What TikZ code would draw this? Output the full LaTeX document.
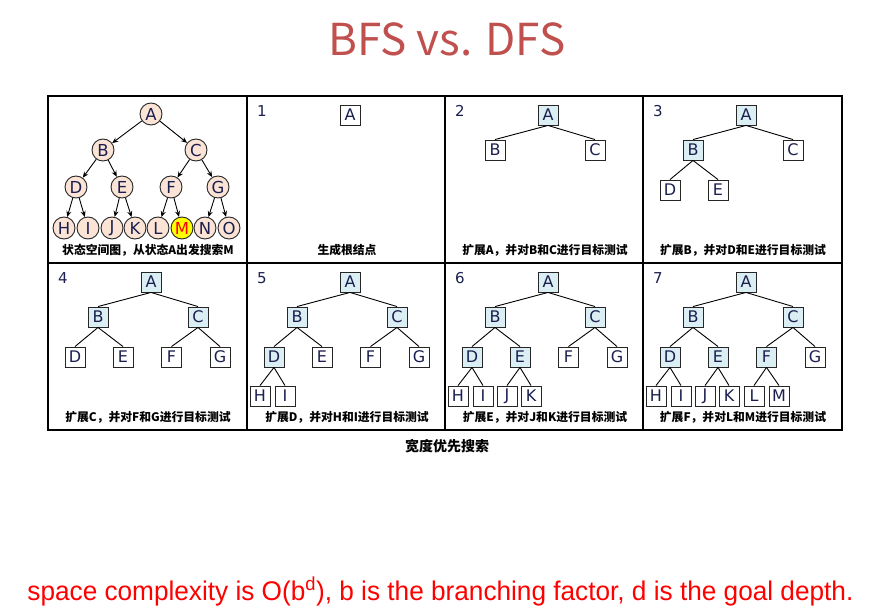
\documentclass[tikz,border=0pt]{standalone}
\usepackage{graphicx}
\usepackage{fontspec}
\setmainfont{DejaVu Sans}
\newfontfamily\cjk{Noto Sans CJK SC}
\newfontfamily\notefont{Liberation Sans}
\usetikzlibrary{arrows.meta}
\definecolor{titlered}{HTML}{C0504D}
\definecolor{statefill}{HTML}{FBE4D5}
\definecolor{donefill}{HTML}{DAEEF3}
\definecolor{letterblue}{HTML}{1B1F4F}
\definecolor{goalyellow}{HTML}{FFFF00}

\tikzset{
  state/.style={circle, draw=black!85, fill=statefill, minimum size=22pt, inner sep=0pt,
    font=\fontsize{16.5}{16.5}\selectfont, text=letterblue},
  tbox/.style={rectangle, draw=black!85, fill=white, minimum size=20pt, inner sep=0pt,
    font=\fontsize{16}{16}\selectfont, text=letterblue},
  done/.style={fill=donefill},
  arrowline/.style={-{Stealth[length=6pt,width=5pt]}},
  caption/.style={font=\cjk\bfseries\fontsize{11.8}{12}\selectfont},
  stepno/.style={font=\fontsize{15}{15}\selectfont, text=letterblue},
}

\begin{document}
\begin{tikzpicture}[x=1pt, y=-1pt, line width=0.9pt]
  \useasboundingbox (0,0) rectangle (888,612);

  \node[font=\cjk\fontsize{44}{44}\selectfont, text=titlered] (title) at (447,39) {BFS vs. DFS};

  % frame of the eight panels
  \draw[line width=1.3pt] (48,96) rectangle (842,430);
  \draw[line width=1.3pt] (48,263) -- (842,263);
  \foreach \x in {247,445,643}
    \draw[line width=1.3pt] (\x,96) -- (\x,430);

  % state space
  \node[state] (A) at (151,114) {A};
  \node[state] (B) at (103,150) {B};
  \node[state] (C) at (196,150) {C};
  \node[state] (D) at (76,187) {D};
  \node[state] (E) at (122,187) {E};
  \node[state] (F) at (171,187) {F};
  \node[state] (G) at (218,187) {G};
  \node[state] (H) at (64,228) {H};
  \node[state] (I) at (88,228) {I};
  \node[state] (J) at (112,228) {J};
  \node[state] (K) at (135,228) {K};
  \node[state] (L) at (158,228) {L};
  \node[state, fill=goalyellow, text=red] (M) at (182,228) {M};
  \node[state] (N) at (205,228) {N};
  \node[state] (O) at (229,228) {O};
  \foreach \a/\b in {A/B,A/C,B/D,B/E,C/F,C/G,D/H,D/I,E/J,E/K,F/L,F/M,G/N,G/O}
    \draw[arrowline] (\a) -- (\b);
  \node[caption] (cap0) at (148,250) {状态空间图，从状态A出发搜索M};

  % step 1
  \node[stepno] (no1) at (262,111) {1};
  \node[tbox] (n1A) at (350,115) {A};
  \node[caption] (cap1) at (347,250) {生成根结点};

  % steps 2 to 7
  \foreach \k/\px/\py/\done/\fresh/\links/\cap in {
    2/445/96/{A}/{B,C}/{A/B,A/C}/{扩展A，并对B和C进行目标测试},
    3/643/96/{A,B}/{C,D,E}/{A/B,A/C,B/D,B/E}/{扩展B，并对D和E进行目标测试},
    4/48/263/{A,B,C}/{D,E,F,G}/{A/B,A/C,B/D,B/E,C/F,C/G}/{扩展C，并对F和G进行目标测试},
    5/247/263/{A,B,C,D}/{E,F,G,H,I}/{A/B,A/C,B/D,B/E,C/F,C/G,D/H,D/I}/{扩展D，并对H和I进行目标测试},
    6/445/263/{A,B,C,D,E}/{F,G,H,I,J,K}/{A/B,A/C,B/D,B/E,C/F,C/G,D/H,D/I,E/J,E/K}/{扩展E，并对J和K进行目标测试},
    7/643/263/{A,B,C,D,E,F}/{G,H,I,J,K,L,M}/{A/B,A/C,B/D,B/E,C/F,C/G,D/H,D/I,E/J,E/K,F/L,F/M}/{扩展F，并对L和M进行目标测试}}{
    \foreach \n/\x/\y in {A/103/19,B/50/54,C/150/54,D/27/94,E/75/94,F/123.5/94,G/172/94,
                          H/13/133,I/38/133,J/62/133,K/86/133,L/111/133,M/136/133}
      \coordinate (p\k\n) at (\px+\x,\py+\y);
    \node[stepno] (no\k) at (\px+15,\py+15) {\k};
    \foreach \n in \done
      \node[tbox, done] (n\k\n) at (p\k\n) {\n};
    \foreach \n in \fresh
      \node[tbox] (n\k\n) at (p\k\n) {\n};
    \foreach \a/\b in \links
      \draw (n\k\a.south) -- (n\k\b.north);
    \node[caption] (cap\k) at (\px+100,\py+154) {\cap};
  }

  \node[font=\cjk\bfseries\fontsize{14}{14}\selectfont] (bfs) at (447,446) {宽度优先搜索};

  \node[anchor=base west, inner sep=0pt, text=red, font=\notefont\fontsize{27}{27}\selectfont] (note) at (27,600)
    {\scalebox{0.97}[1]{space complexity is O(b\textsuperscript{d}), b is the branching factor, d is the goal depth.}};
\end{tikzpicture}
\end{document}
